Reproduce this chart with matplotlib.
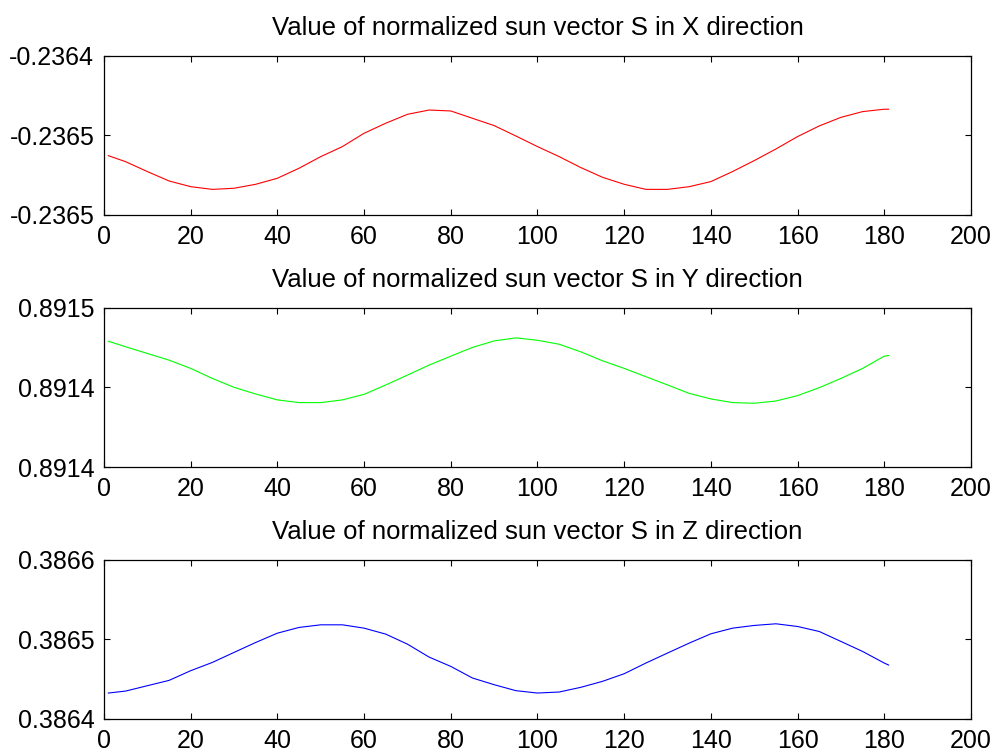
import numpy as np
import matplotlib
matplotlib.use("Agg")
import matplotlib.pyplot as plt

plt.rcParams['font.family'] = ['Liberation Sans', 'DejaVu Sans']

# sample index (days)
t = [1, 5, 10, 15, 20, 25, 30, 35, 40, 45, 50, 55, 60, 65, 70, 75, 80, 85, 90,
     95, 100, 105, 110, 115, 120, 125, 130, 135, 140, 145, 150, 155, 160, 165,
     170, 175, 180, 181]

sx = [-0.2364627, -0.2364665, -0.2364727, -0.2364786, -0.2364822, -0.2364839,
      -0.2364832, -0.2364807, -0.2364769, -0.2364706, -0.2364633, -0.2364570,
      -0.2364486, -0.2364423, -0.2364367, -0.2364340, -0.2364346, -0.2364392,
      -0.2364438, -0.2364503, -0.2364570, -0.2364633, -0.2364702, -0.2364763,
      -0.2364807, -0.2364839, -0.2364839, -0.2364822, -0.2364790, -0.2364727,
      -0.2364658, -0.2364585, -0.2364507, -0.2364440, -0.2364386, -0.2364350,
      -0.2364335, -0.2364335]

sy = [0.8914791, 0.8914756, 0.8914714, 0.8914672, 0.8914620, 0.8914557,
      0.8914501, 0.8914459, 0.8914422, 0.8914405, 0.8914405, 0.8914422,
      0.8914457, 0.8914516, 0.8914578, 0.8914641, 0.8914697, 0.8914752,
      0.8914793, 0.8914812, 0.8914797, 0.8914772, 0.8914724, 0.8914668,
      0.8914620, 0.8914568, 0.8914516, 0.8914463, 0.8914428, 0.8914405,
      0.8914401, 0.8914415, 0.8914449, 0.8914499, 0.8914557, 0.8914620,
      0.8914697, 0.8914701]

sz = [0.3864326, 0.3864351, 0.3864418, 0.3864485, 0.3864607, 0.3864711,
      0.3864837, 0.3864962, 0.3865079, 0.3865151, 0.3865184, 0.3865184,
      0.3865142, 0.3865067, 0.3864941, 0.3864778, 0.3864661, 0.3864515,
      0.3864431, 0.3864356, 0.3864326, 0.3864339, 0.3864398, 0.3864473,
      0.3864569, 0.3864703, 0.3864829, 0.3864954, 0.3865071, 0.3865142,
      0.3865176, 0.3865197, 0.3865163, 0.3865100, 0.3864975, 0.3864849,
      0.3864703, 0.3864678]

titles = ["Value of normalized sun vector S in X direction",
          "Value of normalized sun vector S in Y direction",
          "Value of normalized sun vector S in Z direction"]
colors = ["#ff0000", "#00ff00", "#0000ff"]

# y ticks as MATLAB printed them (4 decimals, so some repeat)
yticks_x = [-0.2365, -0.23645, -0.2364]
ylabels_x = ["-0.2365", "-0.2365", "-0.2364"]
yticks_y = [0.8914, 0.89145, 0.8915]
ylabels_y = ["0.8914", "0.8914", "0.8915"]
yticks_z = [0.3864, 0.3865, 0.3866]
ylabels_z = ["0.3864", "0.3865", "0.3866"]
xticks = [0, 20, 40, 60, 80, 100, 120, 140, 160, 180, 200]

fig = plt.figure(figsize=(9.97, 7.53), dpi=100)
bottoms = [0.7145, 0.3798, 0.0452]
series = [sx, sy, sz]
ytk = [(yticks_x, ylabels_x), (yticks_y, ylabels_y), (yticks_z, ylabels_z)]

for i in range(3):
    ax = fig.add_axes([0.1043, bottoms[i], 0.8696, 0.2112])
    ax.plot(t, series[i], color=colors[i], lw=0.8)
    ax.set_xlim(0, 200)
    ticks, labels = ytk[i]
    ax.set_ylim(ticks[0], ticks[-1])
    ax.set_yticks(ticks)
    ax.set_yticklabels(labels)
    ax.set_xticks(xticks)
    ax.tick_params(direction='in', top=True, right=True, length=4.5, width=0.8,
                   labelsize=18, pad=7)
    for s in ax.spines.values():
        s.set_linewidth(0.9)
    ax.set_title(titles[i], fontsize=18.5, pad=15)

fig.savefig("out.png", dpi=100)
